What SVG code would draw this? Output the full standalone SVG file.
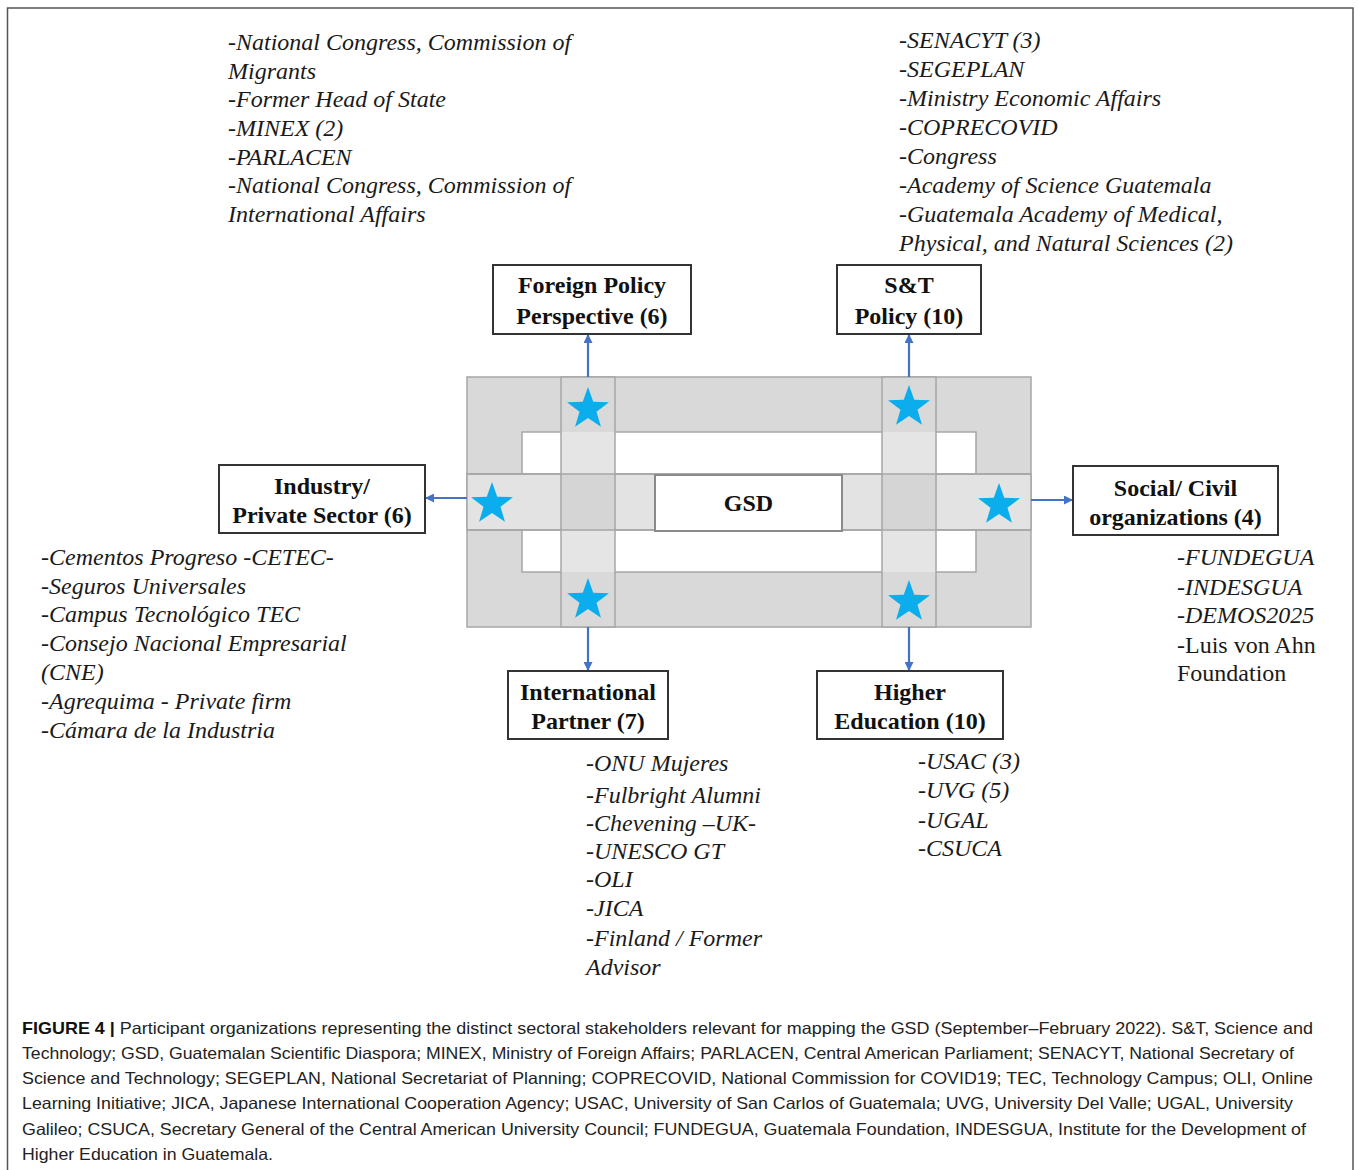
<svg xmlns="http://www.w3.org/2000/svg" width="1358" height="1170" viewBox="0 0 1358 1170">
<style>
.box{fill:#fff;stroke:#333;stroke-width:2}
.bt{font-family:"Liberation Serif","Times New Roman",serif;font-weight:bold;font-size:24px;fill:#111;text-anchor:middle}
.li{font-family:"Liberation Serif","Times New Roman",serif;font-style:italic;font-size:24px;fill:#1a1a1a}
.lr{font-family:"Liberation Serif","Times New Roman",serif;font-size:24px;fill:#1a1a1a}
.cap{font-family:"Liberation Sans",Arial,sans-serif;font-size:16.5px;fill:#222}
.edge{stroke:#4472C4;stroke-width:2.2;fill:none;marker-end:url(#ah)}
.g{stroke:#a6a6a6;stroke-width:1.5}
</style>
<defs>
<marker id="ah" markerUnits="userSpaceOnUse" markerWidth="9" markerHeight="9" refX="8" refY="4.5" orient="auto">
<path d="M0,0 L9,4.5 L0,9 z" fill="#4472C4"/>
</marker>
<path id="star" d="M0,-21 L5,-6.88 L19.97,-6.49 L8.08,2.63 L12.34,16.99 L0,8.5 L-12.34,16.99 L-8.08,2.63 L-19.97,-6.49 L-5,-6.88 Z" fill="#0BADEC"/>
</defs>
<rect x="0" y="0" width="1358" height="1170" fill="#fff"/>
<rect x="7.5" y="8" width="1345.5" height="1175" fill="none" stroke="#555" stroke-width="1.5"/>

<g id="gsd-structure">
<rect class="g" x="467" y="377" width="564" height="250" fill="#d9d9d9"/>
<rect class="g" x="522" y="432" width="454" height="140" fill="#ffffff"/>
<rect class="g" x="467" y="474" width="564" height="56" fill="#e3e3e3"/>
<rect x="561" y="377" width="54" height="250" fill="#e5e5e5"/>
<rect x="561" y="377" width="54" height="55" fill="#d9d9d9"/>
<rect x="561" y="572" width="54" height="55" fill="#d9d9d9"/>
<rect x="561" y="474" width="54" height="56" fill="#d5d5d5"/>
<rect class="g" x="561" y="377" width="54" height="250" fill="none"/>
<rect x="882" y="377" width="54" height="250" fill="#e5e5e5"/>
<rect x="882" y="377" width="54" height="55" fill="#d9d9d9"/>
<rect x="882" y="572" width="54" height="55" fill="#d9d9d9"/>
<rect x="882" y="474" width="54" height="56" fill="#d5d5d5"/>
<rect class="g" x="882" y="377" width="54" height="250" fill="none"/>
<line class="g" x1="467" y1="474" x2="1031" y2="474"/>
<line class="g" x1="467" y1="530" x2="1031" y2="530"/>
<use href="#star" transform="translate(588,409) scale(1.05)"/>
<use href="#star" transform="translate(909,407) scale(1.05)"/>
<use href="#star" transform="translate(588,600) scale(1.05)"/>
<use href="#star" transform="translate(909,602) scale(1.05)"/>
<use href="#star" transform="translate(492,504) scale(1.05)"/>
<use href="#star" transform="translate(999,505) scale(1.05)"/>
</g>

<g id="gsd">
<rect x="655" y="475" width="187" height="56" fill="#fff" stroke="#8a8a8a" stroke-width="2"/>
<text class="bt" x="748.5" y="511">GSD</text>
</g>

<g id="connectors">
<line class="edge" x1="588" y1="377" x2="588" y2="335"/>
<line class="edge" x1="909" y1="377" x2="909" y2="335"/>
<line class="edge" x1="588" y1="627" x2="588" y2="670"/>
<line class="edge" x1="909" y1="627" x2="909" y2="670"/>
<line class="edge" x1="467" y1="498" x2="426" y2="498"/>
<line class="edge" x1="1031" y1="500" x2="1072" y2="500"/>
</g>

<g id="foreign-policy">
<rect class="box" x="493" y="265" width="198" height="69"/>
<text class="bt" x="592" y="293">Foreign Policy</text>
<text class="bt" x="592" y="324">Perspective (6)</text>
</g>
<g id="st-policy">
<rect class="box" x="837" y="265" width="144" height="69"/>
<text class="bt" x="909" y="293">S&amp;T</text>
<text class="bt" x="909" y="324">Policy (10)</text>
</g>
<g id="industry">
<rect class="box" x="219" y="465" width="206" height="68"/>
<text class="bt" x="322" y="494">Industry/</text>
<text class="bt" x="322" y="523">Private Sector (6)</text>
</g>
<g id="social">
<rect class="box" x="1073" y="466" width="205" height="69"/>
<text class="bt" x="1175.5" y="496">Social/ Civil</text>
<text class="bt" x="1175.5" y="525">organizations (4)</text>
</g>
<g id="international">
<rect class="box" x="508" y="671" width="160" height="68"/>
<text class="bt" x="588" y="700">International</text>
<text class="bt" x="588" y="729">Partner (7)</text>
</g>
<g id="higher-education">
<rect class="box" x="817" y="671" width="186" height="68"/>
<text class="bt" x="910" y="700">Higher</text>
<text class="bt" x="910" y="729">Education (10)</text>
</g>

<g id="list-foreign">
<text class="li" x="228" y="50">-National Congress, Commission of</text>
<text class="li" x="228" y="79">Migrants</text>
<text class="li" x="228" y="107">-Former Head of State</text>
<text class="li" x="228" y="136">-MINEX (2)</text>
<text class="li" x="228" y="165">-PARLACEN</text>
<text class="li" x="228" y="193">-National Congress, Commission of</text>
<text class="li" x="228" y="222">International Affairs</text>
</g>
<g id="list-st">
<text class="li" x="899" y="48">-SENACYT (3)</text>
<text class="li" x="899" y="77">-SEGEPLAN</text>
<text class="li" x="899" y="106">-Ministry Economic Affairs</text>
<text class="li" x="899" y="135">-COPRECOVID</text>
<text class="li" x="899" y="164">-Congress</text>
<text class="li" x="899" y="193">-Academy of Science Guatemala</text>
<text class="li" x="899" y="222">-Guatemala Academy of Medical,</text>
<text class="li" x="899" y="251">Physical, and Natural Sciences (2)</text>
</g>
<g id="list-industry">
<text class="li" x="41" y="565">-Cementos Progreso -CETEC-</text>
<text class="li" x="41" y="594">-Seguros Universales</text>
<text class="li" x="41" y="622">-Campus Tecnológico TEC</text>
<text class="li" x="41" y="651">-Consejo Nacional Empresarial</text>
<text class="li" x="41" y="680">(CNE)</text>
<text class="li" x="41" y="709">-Agrequima - Private firm</text>
<text class="li" x="41" y="738">-Cámara de la Industria</text>
</g>
<g id="list-social">
<text class="li" x="1177" y="565">-FUNDEGUA</text>
<text class="li" x="1177" y="595">-INDESGUA</text>
<text class="li" x="1177" y="623">-DEMOS2025</text>
<text class="lr" x="1177" y="653">-Luis von Ahn</text>
<text class="lr" x="1177" y="681">Foundation</text>
</g>
<g id="list-international">
<text class="li" x="586" y="771">-ONU Mujeres</text>
<text class="li" x="586" y="803">-Fulbright Alumni</text>
<text class="li" x="586" y="831">-Chevening –UK-</text>
<text class="li" x="586" y="859">-UNESCO GT</text>
<text class="li" x="586" y="887">-OLI</text>
<text class="li" x="586" y="916">-JICA</text>
<text class="li" x="586" y="946">-Finland / Former</text>
<text class="li" x="586" y="975">Advisor</text>
</g>
<g id="list-higher">
<text class="li" x="918" y="769">-USAC (3)</text>
<text class="li" x="918" y="798">-UVG (5)</text>
<text class="li" x="918" y="828">-UGAL</text>
<text class="li" x="918" y="856">-CSUCA</text>
</g>

<g id="caption">
<text class="cap" x="22" y="1034" textLength="1291" lengthAdjust="spacingAndGlyphs"><tspan font-weight="bold" fill="#111">FIGURE 4 |</tspan> Participant organizations representing the distinct sectoral stakeholders relevant for mapping the GSD (September–February 2022). S&amp;T, Science and</text>
<text class="cap" x="22" y="1059" textLength="1272" lengthAdjust="spacingAndGlyphs">Technology; GSD, Guatemalan Scientific Diaspora; MINEX, Ministry of Foreign Affairs; PARLACEN, Central American Parliament; SENACYT, National Secretary of</text>
<text class="cap" x="22" y="1084" textLength="1291" lengthAdjust="spacingAndGlyphs">Science and Technology; SEGEPLAN, National Secretariat of Planning; COPRECOVID, National Commission for COVID19; TEC, Technology Campus; OLI, Online</text>
<text class="cap" x="22" y="1109" textLength="1271" lengthAdjust="spacingAndGlyphs">Learning Initiative; JICA, Japanese International Cooperation Agency; USAC, University of San Carlos of Guatemala; UVG, University Del Valle; UGAL, University</text>
<text class="cap" x="22" y="1135" textLength="1284" lengthAdjust="spacingAndGlyphs">Galileo; CSUCA, Secretary General of the Central American University Council; FUNDEGUA, Guatemala Foundation, INDESGUA, Institute for the Development of</text>
<text class="cap" x="22" y="1160" textLength="251" lengthAdjust="spacingAndGlyphs">Higher Education in Guatemala.</text>
</g>
</svg>
